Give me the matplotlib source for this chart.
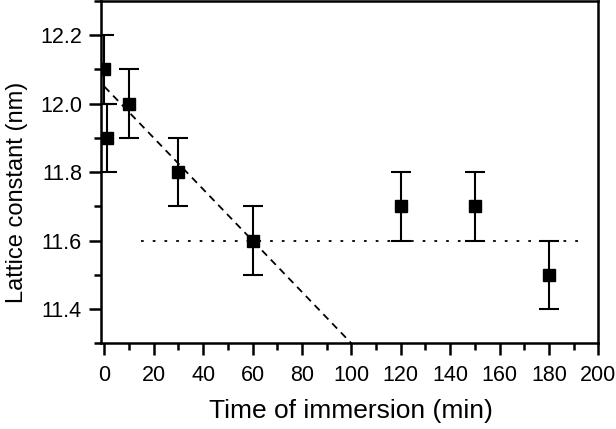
import matplotlib
matplotlib.use("Agg")
import matplotlib.pyplot as plt
from matplotlib.ticker import MultipleLocator

plt.rcParams['font.family'] = ['Liberation Sans', 'DejaVu Sans']

# data
time_min = [0, 1, 10, 30, 60, 120, 150, 180]
lattice_nm = [12.1, 11.9, 12.0, 11.8, 11.6, 11.7, 11.7, 11.5]
lattice_err = [0.1, 0.1, 0.1, 0.1, 0.1, 0.1, 0.1, 0.1]

# guide lines
dash_x = [0, 100]
dash_y = [12.05, 11.3]
dot_x = [15, 195]
dot_y = [11.6, 11.6]

fig = plt.figure(figsize=(6.16, 4.29), dpi=100)
ax = fig.add_axes([0.1635, 0.1998, 0.8078, 0.798])

ax.plot(dash_x, dash_y, color='black', linestyle=(0, (4, 3)), linewidth=1.3)
ax.plot(dot_x, dot_y, color='black', linestyle=(0, (1.5, 5)), linewidth=1.3)
ax.errorbar(time_min, lattice_nm, yerr=lattice_err, fmt='s', color='black',
            markersize=8.5, capsize=7, capthick=1.5, elinewidth=1.5)

ax.set_xlim(-1.46, 200)
ax.set_ylim(11.3, 12.3)
ax.xaxis.set_major_locator(MultipleLocator(20))
ax.xaxis.set_minor_locator(MultipleLocator(10))
ax.yaxis.set_minor_locator(MultipleLocator(0.1))
ax.set_yticks([11.4, 11.6, 11.8, 12.0, 12.2])

for s in ax.spines.values():
    s.set_linewidth(1.8)
ax.tick_params(which='major', direction='out', length=8.5, width=1.8, labelsize=15.5)
ax.tick_params(axis='x', which='major', pad=7)
ax.tick_params(axis='y', which='major', pad=5)
ax.tick_params(which='minor', direction='out', length=5, width=1.8)

ax.set_xlabel('Time of immersion (min)', fontsize=19)
ax.set_ylabel('Lattice constant (nm)', fontsize=17)
ax.xaxis.set_label_coords(0.503, -0.162)
ax.yaxis.set_label_coords(-0.146, 0.44)

fig.savefig('out.png', dpi=100)
